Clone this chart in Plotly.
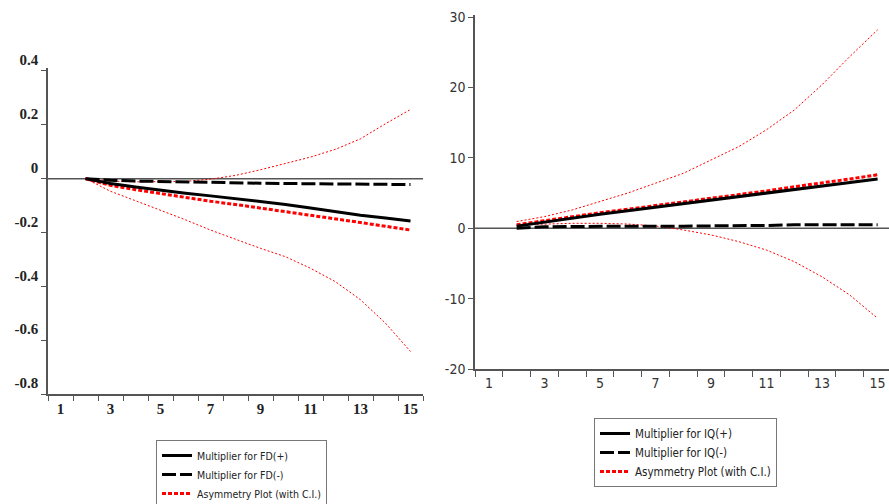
import plotly.graph_objects as go

# ---- data ----
periods = [2, 3, 4, 5, 6, 7, 8, 9, 10, 11, 12, 13, 14, 15]
x_tick_vals = [1, 3, 5, 7, 9, 11, 13, 15]

fd_pos = [0.0, -0.018, -0.031, -0.043, -0.054, -0.064, -0.074, -0.084, -0.096, -0.109, -0.122, -0.136, -0.146, -0.157]
fd_neg = [0.0, -0.006, -0.009, -0.011, -0.013, -0.015, -0.016, -0.017, -0.018, -0.019, -0.020, -0.021, -0.022, -0.022]
fd_asym = [0.0, -0.025, -0.041, -0.056, -0.070, -0.084, -0.096, -0.109, -0.122, -0.136, -0.149, -0.163, -0.177, -0.191]
fd_ci_up = [0.0, -0.009, -0.012, -0.012, -0.010, -0.002, 0.012, 0.033, 0.056, 0.080, 0.109, 0.148, 0.204, 0.257]
fd_ci_lo = [0.0, -0.047, -0.082, -0.117, -0.153, -0.191, -0.225, -0.259, -0.290, -0.333, -0.383, -0.450, -0.537, -0.642]

iq_pos = [0.3, 0.9, 1.5, 2.0, 2.5, 3.0, 3.5, 4.0, 4.5, 5.0, 5.5, 6.0, 6.5, 7.0]
iq_neg = [0.0, 0.2, 0.25, 0.3, 0.3, 0.3, 0.3, 0.3, 0.35, 0.4, 0.5, 0.5, 0.5, 0.5]
iq_asym = [0.5, 1.1, 1.6, 2.2, 2.7, 3.2, 3.7, 4.3, 4.8, 5.3, 5.9, 6.4, 7.0, 7.6]
iq_ci_up = [0.95, 1.65, 2.6, 3.8, 5.0, 6.4, 7.8, 9.7, 11.6, 14.0, 16.8, 20.4, 24.4, 28.2]
iq_ci_lo = [0.47, 0.6, 0.7, 0.7, 0.6, 0.33, -0.24, -0.95, -1.9, -3.1, -4.75, -6.9, -9.5, -12.8]

left_y_ticks = [0.4, 0.2, 0, -0.2, -0.4, -0.6, -0.8]
left_y_text = ["0.4", "0.2", "0", "-0.2", "-0.4", "-0.6", "-0.8"]
right_y_ticks = [30, 20, 10, 0, -10, -20]
right_y_text = ["30", "20", "10", "0", "-10", "-20"]

names_fd = ["Multiplier for FD(+)", "Multiplier for FD(-)", "Asymmetry Plot (with C.I.)"]
names_iq = ["Multiplier for IQ(+)", "Multiplier for IQ(-)", "Asymmetry Plot (with C.I.)"]

RED = "#ff0000"
NARROW = "Liberation Sans Narrow, DejaVu Sans Condensed, Roboto Condensed, Arial Narrow, Liberation Sans, Arial"
SERIF = "Liberation Serif, DejaVu Serif, serif"

fig = go.Figure()

def add_panel(xa, ya, leg, pos, neg, asym, up, lo, names):
    fig.add_trace(go.Scatter(x=periods, y=up, mode="lines", xaxis=xa, yaxis=ya,
                             line=dict(color=RED, width=1, dash="2px,2px"),
                             showlegend=False, legend=leg, hoverinfo="skip"))
    fig.add_trace(go.Scatter(x=periods, y=lo, mode="lines", xaxis=xa, yaxis=ya,
                             line=dict(color=RED, width=1, dash="2px,2px"),
                             showlegend=False, legend=leg, hoverinfo="skip"))
    fig.add_trace(go.Scatter(x=periods, y=neg, mode="lines", name=names[1], xaxis=xa, yaxis=ya,
                             line=dict(color="black", width=3, dash="14px,4px"), legend=leg,
                             legendrank=2))
    fig.add_trace(go.Scatter(x=periods, y=asym, mode="lines", name=names[2], xaxis=xa, yaxis=ya,
                             line=dict(color=RED, width=3, dash="4px,2px"), legend=leg,
                             legendrank=3))
    fig.add_trace(go.Scatter(x=periods, y=pos, mode="lines", name=names[0], xaxis=xa, yaxis=ya,
                             line=dict(color="black", width=3), legend=leg, legendrank=1))

add_panel("x", "y", "legend", fd_pos, fd_neg, fd_asym, fd_ci_up, fd_ci_lo, names_fd)
add_panel("x2", "y2", "legend2", iq_pos, iq_neg, iq_asym, iq_ci_up, iq_ci_lo, names_iq)

AX = "#555555"
fig.update_layout(
    width=889, height=504,
    margin=dict(l=0, r=0, t=0, b=0, autoexpand=False),
    paper_bgcolor="white", plot_bgcolor="white",
    xaxis=dict(domain=[48 / 889, 423 / 889], range=[0.5, 15.5], anchor="y",
               tickvals=x_tick_vals, ticks="", showgrid=False, zeroline=False,
               showline=True, linecolor=AX, linewidth=1.5,
               tickfont=dict(family=SERIF, size=15, color="#222222", weight="bold"),
               minor=dict(tick0=0.5, dtick=1, ticks="outside", ticklen=5,
                          tickcolor=AX, tickwidth=1.2, showgrid=False)),
    yaxis=dict(domain=[1 - 394 / 504, 1 - 68 / 504], range=[-0.8, 0.411], anchor="x",
               tickvals=left_y_ticks, ticktext=left_y_text, ticks="outside", ticklen=5,
               tickcolor=AX, tickwidth=1.2, showgrid=False, zeroline=False,
               showline=True, linecolor=AX, linewidth=1.5, ticklabelshift=-11,
               tickfont=dict(family=SERIF, size=15, color="#222222", weight="bold")),
    xaxis2=dict(domain=[475 / 889, 1.0], range=[0.5, 15.41], anchor="y2",
                tickvals=x_tick_vals, ticks="", showgrid=False, zeroline=False,
                showline=True, linecolor=AX, linewidth=1.5,
                tickfont=dict(family=NARROW, size=14, color="#333333"),
                minor=dict(tick0=0.5, dtick=1, ticks="outside", ticklen=6,
                           tickcolor=AX, tickwidth=1.2, showgrid=False)),
    yaxis2=dict(domain=[1 - 369 / 504, 1 - 15 / 504], range=[-20, 30.3], anchor="x2",
                tickvals=right_y_ticks, ticktext=right_y_text, ticks="outside", ticklen=5,
                tickcolor=AX, tickwidth=1.2, showgrid=False, zeroline=False,
                showline=True, linecolor=AX, linewidth=1.5,
                tickfont=dict(family=NARROW, size=14, color="#333333")),
    legend=dict(x=156 / 889, y=1 - 440 / 504, xanchor="left", yanchor="top",
                bgcolor="white", bordercolor="#777777", borderwidth=1,
                font=dict(family=NARROW, size=10.5, color="#222222"),
                itemwidth=30, tracegroupgap=0, traceorder="normal"),
    legend2=dict(x=594 / 889, y=1 - 418 / 504, xanchor="left", yanchor="top",
                 bgcolor="white", bordercolor="#777777", borderwidth=1,
                 font=dict(family=NARROW, size=11.5, color="#222222"),
                 itemwidth=30, tracegroupgap=0, traceorder="normal"),
)

# zero reference lines across each panel
fig.add_shape(type="line", xref="x domain", yref="y", x0=0, x1=1, y0=0, y1=0,
              line=dict(color=AX, width=1.5), layer="below")
fig.add_shape(type="line", xref="x2 domain", yref="y2", x0=0, x1=1, y0=0, y1=0,
              line=dict(color=AX, width=1.5), layer="below")

fig.write_html("out.html", config={"displayModeBar": False},
               post_script="document.body.style.margin='0';document.body.style.overflow='hidden';")
